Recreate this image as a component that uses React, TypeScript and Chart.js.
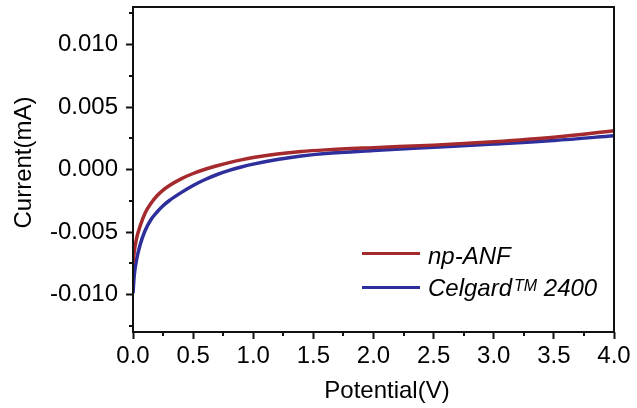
import React, { useEffect, useRef } from 'react';
import { Chart, registerables } from 'chart.js';

Chart.register(...registerables);

// ---- data ----
const potential = [0, 0.01, 0.03, 0.06, 0.1, 0.15, 0.2, 0.25, 0.3, 0.4, 0.5, 0.6, 0.7, 0.8, 0.9, 1.0, 1.2, 1.4, 1.6, 2.0, 2.5, 3.0, 3.5, 4.0];
const npAnf = [-0.0075, -0.0066, -0.0055, -0.0045, -0.0035, -0.0027, -0.0021, -0.00165, -0.0013, -0.00075, -0.00032, 0.00002, 0.0003, 0.00055, 0.00077, 0.00096, 0.00124, 0.00144, 0.00157, 0.00175, 0.00195, 0.00222, 0.00258, 0.0031];
const celgard = [-0.0099, -0.0085, -0.0072, -0.006, -0.0049, -0.004, -0.0034, -0.0029, -0.0025, -0.00185, -0.00128, -0.0008, -0.0004, -0.00007, 0.0002, 0.00043, 0.0008, 0.00108, 0.00128, 0.00152, 0.00178, 0.00204, 0.00232, 0.0027];

const seriesNames = ['np-ANF', 'Celgard™ 2400'];
const legendParts = [
  [{ text: 'np-ANF', sup: false }],
  [{ text: 'Celgard', sup: false }, { text: 'TM', sup: true }, { text: ' 2400', sup: false }],
];
const seriesColors = ['#A52A2E', '#2E2E9C'];

const xTicks = [0, 0.5, 1.0, 1.5, 2.0, 2.5, 3.0, 3.5, 4.0];
const xMinorTicks = [0.25, 0.75, 1.25, 1.75, 2.25, 2.75, 3.25, 3.75];
const yTicks = [-0.01, -0.005, 0, 0.005, 0.01];
const yMinorTicks = [-0.0125, -0.0075, -0.0025, 0.0025, 0.0075, 0.0125];
const xRange = [0, 4];
const yRange = [-0.013, 0.013];

const xTitle = 'Potential(V)';
const yTitle = 'Current(mA)';

const FONT = '"Liberation Sans", Arial, sans-serif';

const framePlugin = {
  id: 'frame',
  afterDraw(chart: any) {
    const { ctx, chartArea: a, scales } = chart;
    const x = scales.x;
    const y = scales.y;
    ctx.save();
    ctx.strokeStyle = '#111';
    ctx.lineWidth = 2;
    ctx.strokeRect(a.left, a.top, a.right - a.left, a.bottom - a.top);
    ctx.beginPath();
    xMinorTicks.forEach((v) => {
      const px = Math.round(x.getPixelForValue(v));
      ctx.moveTo(px, a.bottom);
      ctx.lineTo(px, a.bottom + 4);
    });
    yMinorTicks.forEach((v) => {
      const py = Math.round(y.getPixelForValue(v));
      ctx.moveTo(a.left, py);
      ctx.lineTo(a.left - 4, py);
    });
    ctx.stroke();

    // axis titles
    ctx.fillStyle = '#000';
    ctx.font = `24px ${FONT}`;
    ctx.textAlign = 'center';
    ctx.textBaseline = 'alphabetic';
    ctx.fillText(xTitle, a.left + 254, 398);
    ctx.save();
    ctx.translate(30.5, 162.5);
    ctx.rotate(-Math.PI / 2);
    ctx.fillText(yTitle, 0, 0);
    ctx.restore();

    // legend
    const rows = [
      { lineY: a.top + 246.5, baseY: a.top + 257 },
      { lineY: a.top + 280.5, baseY: a.top + 289 },
    ];
    legendParts.forEach((parts, i) => {
      const r = rows[i];
      ctx.strokeStyle = seriesColors[i];
      ctx.lineWidth = 3;
      ctx.beginPath();
      ctx.moveTo(a.left + 229, r.lineY);
      ctx.lineTo(a.left + 287, r.lineY);
      ctx.stroke();
      let tx = a.left + 295;
      ctx.textAlign = 'left';
      ctx.fillStyle = '#000';
      parts.forEach((p) => {
        if (p.sup) {
          ctx.font = `italic 16px ${FONT}`;
          ctx.fillText(p.text, tx + 2, r.baseY - 5);
          tx += ctx.measureText(p.text).width + 2;
        } else {
          ctx.font = `italic 24px ${FONT}`;
          ctx.fillText(p.text, tx, r.baseY);
          tx += ctx.measureText(p.text).width;
        }
      });
    });
    ctx.restore();
  },
};

export default function App() {
  const ref = useRef<HTMLCanvasElement>(null);

  useEffect(() => {
    if (!ref.current) return;
    const chart = new Chart(ref.current, {
      type: 'line',
      data: {
        datasets: [
          {
            label: seriesNames[0],
            data: potential.map((v, i) => ({ x: v, y: npAnf[i] })),
            borderColor: seriesColors[0],
            borderWidth: 3.5,
            pointRadius: 0,
            cubicInterpolationMode: 'monotone',
            fill: false,
          },
          {
            label: seriesNames[1],
            data: potential.map((v, i) => ({ x: v, y: celgard[i] })),
            borderColor: seriesColors[1],
            borderWidth: 3.5,
            pointRadius: 0,
            cubicInterpolationMode: 'monotone',
            fill: false,
          },
        ],
      },
      options: {
        animation: false,
        responsive: false,
        devicePixelRatio: 1,
        layout: { padding: { top: 7, right: 23, left: 0, bottom: 0 } },
        plugins: { legend: { display: false }, tooltip: { enabled: false } },
        scales: {
          x: {
            type: 'linear',
            min: xRange[0],
            max: xRange[1],
            afterBuildTicks: (s: any) => {
              s.ticks = xTicks.map((value) => ({ value }));
            },
            afterFit: (s: any) => {
              s.height = 76;
              s.paddingLeft = 0;
              s.paddingRight = 0;
            },
            ticks: {
              color: '#000',
              font: { family: FONT, size: 24 },
              padding: 3,
              maxRotation: 0,
              autoSkip: false,
              callback: (v: any) => Number(v).toFixed(1),
            },
            grid: { drawOnChartArea: false, drawTicks: true, tickLength: 7, tickWidth: 2, tickColor: '#111' },
            border: { display: false },
          },
          y: {
            type: 'linear',
            min: yRange[0],
            max: yRange[1],
            afterBuildTicks: (s: any) => {
              s.ticks = yTicks.map((value) => ({ value }));
            },
            afterFit: (s: any) => {
              s.width = 133;
              s.paddingTop = 0;
              s.paddingBottom = 0;
            },
            ticks: {
              color: '#000',
              font: { family: FONT, size: 24 },
              padding: 8,
              autoSkip: false,
              callback: (v: any) => Number(v).toFixed(3),
            },
            grid: { drawOnChartArea: false, drawTicks: true, tickLength: 7, tickWidth: 2, tickColor: '#111' },
            border: { display: false },
          },
        },
      },
      plugins: [framePlugin],
    });
    return () => chart.destroy();
  }, []);

  return (
    <div style={{ position: 'absolute', left: 0, top: 0, width: 637, height: 408, background: '#fff' }}>
      <canvas ref={ref} width={637} height={408} />
    </div>
  );
}
